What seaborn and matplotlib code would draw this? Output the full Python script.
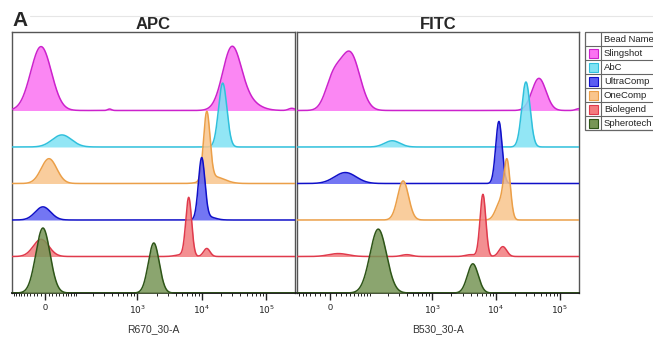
import numpy as np
import seaborn as sns
import matplotlib.pyplot as plt
from matplotlib.patches import Rectangle

# bead names and colours (fill, outline)
beads = ['Slingshot', 'AbC', 'UltraComp', 'OneComp', 'Biolegend', 'Spherotech']
fill_colors = ['#fb72f2', '#7fe2f4', '#5b5ef2', '#f9c58c', '#f27c7e', '#779656']
edge_colors = ['#cc22cc', '#2fc0dc', '#1010c8', '#eb9f48', '#e03a4c', '#2e5518']

# row order top -> bottom in each panel
apc_order = ['Slingshot', 'AbC', 'OneComp', 'UltraComp', 'Biolegend', 'Spherotech']
fitc_order = ['Slingshot', 'AbC', 'UltraComp', 'OneComp', 'Biolegend', 'Spherotech']

# peaks: (centre intensity, height in rows, width in decades)
apc_peaks = {
    'Slingshot': [(-10, 1.75, 0.16), (29000, 1.50, 0.14), (42000, 0.35, 0.20), (370, 0.04, 0.03), (250000, 0.06, 0.05)],
    'AbC': [(48, 0.33, 0.15), (21200, 1.75, 0.065)],
    'OneComp': [(11, 0.68, 0.12), (12000, 1.85, 0.05), (16000, 0.18, 0.15)],
    'UltraComp': [(-5, 0.36, 0.12), (10000, 1.67, 0.05), (13000, 0.08, 0.10)],
    'Biolegend': [(-10, 0.47, 0.12), (6300, 1.59, 0.045), (12000, 0.22, 0.05), (5000, 0.05, 0.10)],
    'Spherotech': [(-5, 1.78, 0.11), (1810, 1.37, 0.085)],
}
fitc_peaks = {
    'Slingshot': [(40, 1.55, 0.15), (5, 0.80, 0.12), (47000, 0.88, 0.11), (200000, 0.05, 0.05)],
    'AbC': [(235, 0.17, 0.12), (29400, 1.78, 0.065)],
    'UltraComp': [(29, 0.30, 0.17), (11100, 1.70, 0.05)],
    'OneComp': [(350, 1.07, 0.085), (14900, 1.55, 0.05), (11500, 0.45, 0.07)],
    'Biolegend': [(6240, 1.70, 0.045), (12800, 0.27, 0.06), (15, 0.08, 0.15), (400, 0.05, 0.08), (4000, 0.05, 0.08)],
    'Spherotech': [(139, 1.75, 0.13), (4340, 0.80, 0.085)],
}

# axis settings per panel
panels = [
    dict(title='APC', xlabel='R670_30-A', order=apc_order, peaks=apc_peaks, c=74, xlim=(-108, 280000)),
    dict(title='FITC', xlabel='B530_30-A', order=fitc_order, peaks=fitc_peaks, c=51, xlim=(-77, 199000)),
]
major_ticks = [0, 1e3, 1e4, 1e5]
major_labels = ['0', '$10^3$', '$10^4$', '$10^5$']

sns.set_theme(style='white')
plt.rcParams['font.family'] = ['Liberation Sans', 'DejaVu Sans']

W, H = 653, 337
fig = plt.figure(figsize=(W / 100, H / 100), dpi=100)

boxes = [(12, 32, 295, 293), (297, 32, 579, 293)]
ln10 = np.log(10)

for p, (x0, y0, x1, y1) in zip(panels, boxes):
    ax = fig.add_axes([x0 / W, 1 - y1 / H, (x1 - x0) / W, (y1 - y0) / H])
    c = p['c']
    ax.set_xscale('asinh', linear_width=c)
    u_lo = np.arcsinh(p['xlim'][0] / c) / ln10
    u_hi = np.arcsinh(p['xlim'][1] / c) / ln10
    u = np.linspace(u_lo, u_hi, 1500)
    v = c * np.sinh(u * ln10)
    n = len(p['order'])
    for i, name in enumerate(p['order']):
        base = n - 1 - i
        k = beads.index(name)
        dens = np.zeros_like(u)
        for centre, h, w in p['peaks'][name]:
            uc = np.arcsinh(centre / c) / ln10
            dens += h * np.exp(-(u - uc) ** 2 / (2 * w ** 2))
        ax.fill_between(v, base, base + dens, color=fill_colors[k], alpha=0.85, lw=0, zorder=2 + 2 * i)
        sns.lineplot(x=v, y=base + dens, color=edge_colors[k], lw=1.1, ax=ax, zorder=3 + 2 * i)
    ax.set_xlim(*p['xlim'])
    ax.set_ylim(0, 7.15)
    ax.set_yticks([])
    ax.set_ylabel('')
    ax.set_xticks(major_ticks, labels=major_labels)
    minors = list(range(-100, 101, 10)) + [m * 10 ** d for d in (2, 3, 4) for m in range(2, 10)]
    ax.set_xticks([m for m in minors if p['xlim'][0] <= m <= p['xlim'][1]], minor=True)
    ax.tick_params(axis='x', which='major', bottom=True, direction='out', length=5, width=1, labelsize=6.5, pad=2.5, colors='#222222')
    ax.tick_params(axis='x', which='minor', bottom=True, direction='out', length=2.5, width=0.7, colors='#222222')
    ax.set_xlabel(p['xlabel'], fontsize=7.5, labelpad=6, color='#333333')
    ax.set_title(p['title'], fontsize=12, fontweight='bold', pad=1.5)
    for s in ['left', 'right', 'top']:
        ax.spines[s].set_color('#555555')
        ax.spines[s].set_linewidth(1.0)
    ax.spines['bottom'].set_color('#111111')
    ax.spines['bottom'].set_linewidth(1.3)

# panel letter and faint header line
fig.text(12 / W, 1 - 21 / H, 'A', fontsize=15, fontweight='bold', va='center', ha='left')
fig.add_artist(plt.Line2D([30 / W, 1], [1 - 16 / H, 1 - 16 / H], color='#e6e6e6', lw=0.8))

# legend table
lax = fig.add_axes([585 / W, 1 - 130 / H, 80 / W, 98 / H])
lax.set_xlim(0, 80)
lax.set_ylim(98, 0)
lax.axis('off')
lax.add_patch(Rectangle((0, 0), 80, 98, fill=False, ec='#666666', lw=0.9, clip_on=False))
lax.plot([16, 16], [0, 98], color='#666666', lw=0.8)
for r in range(1, 7):
    lax.plot([0, 80], [14 * r, 14 * r], color='#666666', lw=0.8)
lax.text(19, 7, 'Bead Name', fontsize=6.8, va='center', ha='left', color='#222222')
for r, name in enumerate(beads):
    yc = 14 * (r + 1) + 7
    lax.add_patch(Rectangle((3.5, yc - 4.5), 9, 9, fc=fill_colors[r], ec=edge_colors[r], lw=0.8))
    lax.text(19, yc, name, fontsize=6.8, va='center', ha='left', color='#222222')

fig.savefig('out.png', dpi=100)
